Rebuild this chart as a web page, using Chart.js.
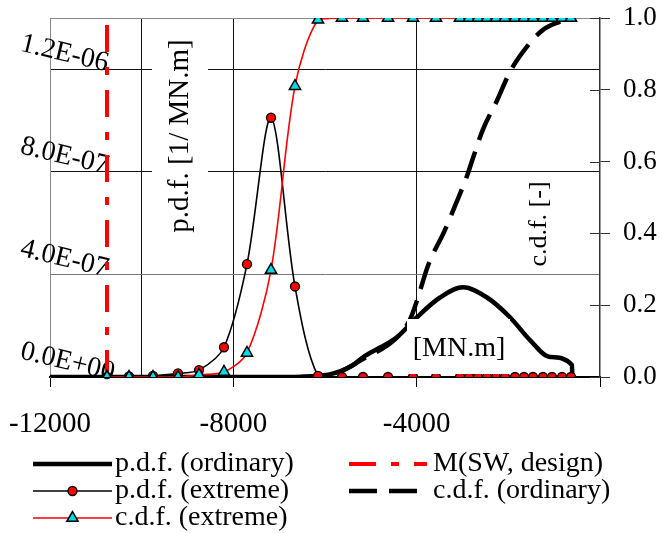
<!DOCTYPE html>
<html>
<head>
<meta charset="utf-8">
<script src="https://cdn.jsdelivr.net/npm/chart.js@4.4.1/dist/chart.umd.min.js"></script>
<style>
  html, body { margin: 0; padding: 0; background: #fff; }
</style>
</head>
<body>
<canvas id="chart" width="663" height="533"></canvas>
<script>
// bending moment [MN.m] of the extreme-value points
var xExtreme = [-10756, -10276, -9753, -9207, -8749, -8204, -7702, -7178, -6655, -6153,
                -5629, -5171, -4625, -4080, -3578, -3055, -2858, -2662, -2465, -2269,
                -2073, -1855, -1658, -1462, -1244, -1047, -829, -633];
// p.d.f. (extreme) [1/MN.m]
var pdfExtreme = [0, 0.002e-6, 0.004e-6, 0.014e-6, 0.027e-6, 0.116e-6, 0.44e-6, 1.011e-6, 0.353e-6, 0.004e-6,
                  0, 0, 0, 0, 0, 0, 0, 0, 0, 0,
                  0, 0, 0, 0, 0, 0, 0, 0];
// c.d.f. (extreme) [-]
var cdfExtreme = [0, 0, 0, 0, 0.006, 0.014, 0.067, 0.298, 0.81, 0.995,
                  1, 1, 1, 1, 1, 1, 1, 1, 1, 1,
                  1, 1, 1, 1, 1, 1, 1, 1];

// p.d.f. (ordinary)
var xPdfOrdinary = [-12000, -7000, -6400, -5900, -5400, -5171, -4800, -4429, -4000, -3491,
                    -2989, -2465, -1964, -1527, -1091, -611, -605];
var pdfOrdinary = [0, 0, 0.002e-6, 0.01e-6, 0.045e-6, 0.077e-6, 0.115e-6, 0.155e-6, 0.232e-6, 0.31e-6,
                   0.35e-6, 0.31e-6, 0.233e-6, 0.144e-6, 0.078e-6, 0.047e-6, 0];

// c.d.f. (ordinary)
var xCdfOrdinary = [-6500, -5891, -5171, -4429, -4145, -4000, -3753, -3382, -3120, -2902,
                    -2771, -2553, -2247, -1964, -1593, -1244, -873, -655];
var cdfOrdinary = [0, 0.005, 0.05, 0.11, 0.16, 0.21, 0.31, 0.41, 0.49, 0.56,
                   0.61, 0.69, 0.77, 0.85, 0.92, 0.967, 0.99, 1.0];

// M(SW, design)
var designMoment = -10756;
var designLine = [0, 1.015];

var xTickLabels = [-12000, -8000, -4000];
var xGridValues = [-10000, -8000, -4000];
var xTickMarks = [-12000, -8000, -4000, 0];

function xy(xs, ys) {
    return xs.map(function (x, i) { return { x: x, y: ys[i] }; });
}

function sci(v) {
    if (Math.abs(v) < 1e-15) return '0.0E+00';
    var e = Math.floor(Math.log10(Math.abs(v)) + 1e-9);
    var m = v / Math.pow(10, e);
    return m.toFixed(1) + 'E' + (e < 0 ? '-' : '+') + String(Math.abs(e)).padStart(2, '0');
}

var serif = "'Liberation Serif', 'Times New Roman', serif";

var datasets = [
    {
        label: 'c.d.f. (extreme)',
        data: xy(xExtreme, cdfExtreme),
        yAxisID: 'y2',
        borderColor: '#ff0000',
        borderWidth: 1.6,
        tension: 0.3,
        pointStyle: 'triangle',
        pointRadius: 6.5,
        pointBackgroundColor: '#00dde8',
        pointBorderColor: '#000',
        pointBorderWidth: 1.5
    },
    {
        label: 'p.d.f. (extreme)',
        data: xy(xExtreme, pdfExtreme),
        yAxisID: 'y',
        borderColor: '#000',
        borderWidth: 1.6,
        tension: 0.3,
        pointStyle: 'circle',
        pointRadius: 4.5,
        pointBackgroundColor: '#ff0000',
        pointBorderColor: '#000',
        pointBorderWidth: 1.3
    },
    {
        label: 'M(SW, design)',
        data: [{ x: designMoment, y: designLine[0] }, { x: designMoment, y: designLine[1] }],
        yAxisID: 'y2',
        borderColor: '#ff0000',
        borderWidth: 4,
        borderDash: [27, 15, 8, 15],
        pointRadius: 0,
        clip: false
    },
    {
        label: 'c.d.f. (ordinary)',
        data: xy(xCdfOrdinary, cdfOrdinary),
        yAxisID: 'y2',
        borderColor: '#000',
        borderWidth: 4.5,
        borderDash: [28, 12],
        cubicInterpolationMode: 'monotone',
        pointRadius: 0
    },
    {
        label: 'p.d.f. (ordinary)',
        data: xy(xPdfOrdinary, pdfOrdinary),
        yAxisID: 'y',
        borderColor: '#000',
        borderWidth: 4.5,
        cubicInterpolationMode: 'monotone',
        pointRadius: 0
    }
];

function noPadding(scale) {
    scale.paddingLeft = 0;
    scale.paddingRight = 0;
    scale.paddingTop = 0;
    scale.paddingBottom = 0;
}

function findDs(label) {
    return datasets.filter(function (d) { return d.label === label; })[0];
}

function drawSample(ctx, ds, x0, x1, y) {
    ctx.save();
    ctx.strokeStyle = ds.borderColor;
    ctx.lineWidth = ds.borderWidth;
    ctx.setLineDash(ds.borderDash || []);
    ctx.beginPath();
    ctx.moveTo(x0, y);
    ctx.lineTo(x1, y);
    ctx.stroke();
    ctx.setLineDash([]);
    if (ds.pointRadius > 0) {
        var cx = (x0 + x1) / 2, r = ds.pointRadius;
        ctx.fillStyle = ds.pointBackgroundColor;
        ctx.strokeStyle = ds.pointBorderColor;
        ctx.lineWidth = ds.pointBorderWidth;
        ctx.beginPath();
        if (ds.pointStyle === 'triangle') {
            ctx.moveTo(cx, y - r);
            ctx.lineTo(cx + r * 0.866, y + r / 2);
            ctx.lineTo(cx - r * 0.866, y + r / 2);
        } else {
            ctx.arc(cx, y, r, 0, Math.PI * 2);
        }
        ctx.closePath();
        ctx.fill();
        ctx.stroke();
    }
    ctx.restore();
}

function boxedText(ctx, text, cx, cy, font, box, vertical) {
    ctx.save();
    ctx.fillStyle = '#fff';
    ctx.fillRect(box[0], box[1], box[2] - box[0], box[3] - box[1]);
    ctx.fillStyle = '#000';
    ctx.font = font;
    ctx.textAlign = 'center';
    ctx.textBaseline = 'middle';
    ctx.translate(cx, cy);
    if (vertical) ctx.rotate(-Math.PI / 2);
    ctx.fillText(text, 0, 0);
    ctx.restore();
}

var overlay = {
    id: 'overlay',
    afterDatasetsDraw: function (chart) {
        var ctx = chart.ctx;
        var y2 = chart.scales.y2;
        // inner half of the right axis tick marks
        ctx.save();
        ctx.strokeStyle = '#333';
        ctx.lineWidth = 1;
        y2.ticks.forEach(function (t) {
            var py = Math.round(y2.getPixelForValue(t.value)) + 0.5;
            ctx.beginPath();
            ctx.moveTo(y2.left - 10, py);
            ctx.lineTo(y2.left, py);
            ctx.stroke();
        });
        ctx.restore();

        boxedText(ctx, 'p.d.f. [1/ MN.m]', 180, 136, '29px ' + serif, [152, 30, 208, 242], true);
        boxedText(ctx, 'c.d.f. [-]', 539, 224, '26px ' + serif, [524, 176, 556, 272], true);
        boxedText(ctx, '[MN.m]', 459, 349, '28px ' + serif, [407, 319, 510, 374], false);
    },
    afterDraw: function (chart) {
        var ctx = chart.ctx;
        var rows = [464, 491, 518];
        var items = [
            { label: 'p.d.f. (ordinary)', col: 0, row: 0 },
            { label: 'p.d.f. (extreme)', col: 0, row: 1 },
            { label: 'c.d.f. (extreme)', col: 0, row: 2 },
            { label: 'M(SW, design)', col: 1, row: 0 },
            { label: 'c.d.f. (ordinary)', col: 1, row: 1 }
        ];
        var cols = [[33, 112, 115], [349, 427, 433]];
        items.forEach(function (it) {
            var c = cols[it.col], y = rows[it.row];
            drawSample(ctx, findDs(it.label), c[0], c[1], y);
            ctx.save();
            ctx.fillStyle = '#000';
            ctx.font = '28px ' + serif;
            ctx.textAlign = 'left';
            ctx.textBaseline = 'middle';
            ctx.fillText(it.label, c[2], y);
            ctx.restore();
        });
    }
};

var leftGridColors = ['rgba(0,0,0,0)', '#777', '#111', '#111', '#888'];

new Chart(document.getElementById('chart'), {
    type: 'line',
    data: { datasets: datasets },
    options: {
        responsive: false,
        animation: false,
        layout: { padding: { top: 18, left: 0, right: 0, bottom: 0 } },
        plugins: {
            legend: { display: false },
            tooltip: { enabled: false }
        },
        scales: {
            x: {
                type: 'linear',
                min: -12000,
                max: 0,
                afterFit: function (scale) { scale.height = 156; noPadding(scale); },
                border: { color: '#000', width: 2 },
                grid: {
                    tickLength: 10,
                    color: function (c) {
                        return c.tick && xGridValues.indexOf(c.tick.value) >= 0 ? '#111' : 'rgba(0,0,0,0)';
                    },
                    tickColor: function (c) {
                        return c.tick && xTickMarks.indexOf(c.tick.value) >= 0 ? '#000' : 'rgba(0,0,0,0)';
                    }
                },
                ticks: {
                    stepSize: 2000,
                    autoSkip: false,
                    minRotation: 0,
                    maxRotation: 0,
                    padding: 20,
                    color: '#000',
                    font: { family: serif, size: 29 },
                    callback: function (v) { return xTickLabels.indexOf(v) >= 0 ? String(v) : ''; }
                }
            },
            y: {
                position: 'left',
                min: 0,
                max: 1.4e-6,
                afterFit: function (scale) { scale.width = 50; noPadding(scale); },
                border: { color: '#888', width: 1 },
                grid: {
                    drawTicks: false,
                    color: function (c) { return leftGridColors[c.index] || '#111'; }
                },
                ticks: {
                    stepSize: 4e-7,
                    autoSkip: false,
                    mirror: true,
                    minRotation: -13.5,
                    maxRotation: 90,
                    padding: -29,
                    labelOffset: -26,
                    color: '#000',
                    font: { family: serif, size: 28 },
                    callback: function (v, i) { return i === 4 ? '' : sci(v); }
                }
            },
            y2: {
                position: 'right',
                min: 0,
                max: 1,
                afterFit: function (scale) { scale.width = 63; noPadding(scale); },
                border: { color: '#333', width: 1.5 },
                grid: {
                    drawOnChartArea: false,
                    tickLength: 10,
                    color: '#333'
                },
                ticks: {
                    stepSize: 0.2,
                    padding: 13,
                    color: '#000',
                    font: { family: serif, size: 27 },
                    callback: function (v) { return v.toFixed(1); }
                }
            }
        }
    },
    plugins: [overlay]
});
</script>
</body>
</html>
